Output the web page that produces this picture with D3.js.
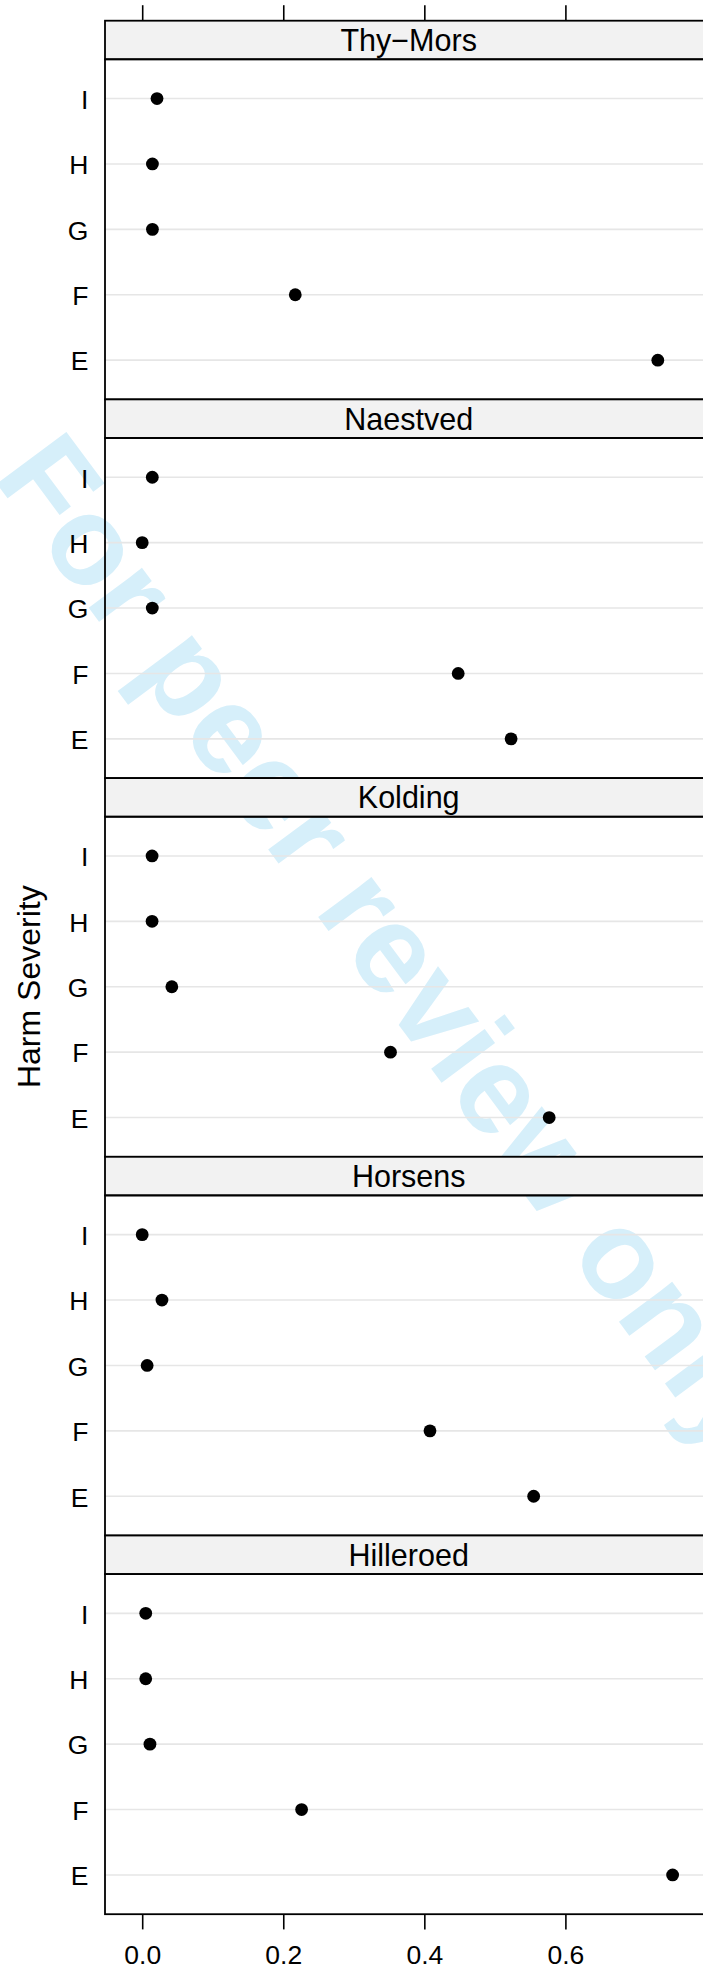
<!DOCTYPE html>
<meta charset="utf-8">
<title>Harm severity by site</title>
<style>
  body { margin: 0; background: #fff; }
  text { font-family: "Liberation Sans", Arial, Helvetica, sans-serif; }
</style>
<div id="viz"></div>
<script src="https://cdnjs.cloudflare.com/ajax/libs/d3/7.8.5/d3.min.js"></script>
<script>

// data (proportions per severity level)
var sites = ["Thy\u2212Mors", "Naestved", "Kolding", "Horsens", "Hilleroed"];
var levels = ["I", "H", "G", "F", "E"];           // top to bottom
var thyMors   = { E: 0.731, F: 0.217, G: 0.0145, H: 0.0145, I: 0.021 };
var naestved  = { E: 0.523, F: 0.448, G: 0.0143, H: 0.0,    I: 0.0143 };
var kolding   = { E: 0.577, F: 0.352, G: 0.042,  H: 0.014,  I: 0.014 };
var horsens   = { E: 0.555, F: 0.408, G: 0.007,  H: 0.028,  I: 0.0 };
var hilleroed = { E: 0.752, F: 0.226, G: 0.011,  H: 0.005,  I: 0.005 };
var xTicks = [0, 0.2, 0.4, 0.6];
var yTitle = "Harm Severity";
var watermark = "For peer review only";

var siteValues = [thyMors, naestved, kolding, horsens, hilleroed];

var width = 703;
var height = 1970;

var left = 105, right = 712.4;
var top0 = 20.7;        // top of first strip
var period = 378.7;     // strip + panel
var stripH = 38.6;

var x = d3.scaleLinear().domain([0, 0.6]).range([142.2, 565.4]);

var svg = d3.select("#viz")
  .append("svg")
  .attr("width", width)
  .attr("height", height);

svg.append("rect")
  .attr("width", width)
  .attr("height", height)
  .attr("fill", "#fff");

// watermark underneath everything
svg.append("text")
  .attr("transform", "translate(357,969) rotate(53.4)")
  .attr("text-anchor", "middle")
  .attr("font-size", 126)
  .attr("font-weight", "bold")
  .attr("fill", "#d6effa")
  .text(watermark);

sites.forEach(function(site, i) {
  var sTop = top0 + i * period;
  var pTop = sTop + stripH;
  var pBot = sTop + period;

  var y = d3.scalePoint().domain(levels).range([pTop, pBot]).padding(0.6);

  var g = svg.append("g");

  // reference lines
  g.selectAll("line.grid")
    .data(levels)
    .enter().append("line")
    .attr("class", "grid")
    .attr("x1", left)
    .attr("x2", right)
    .attr("y1", function(d) { return y(d); })
    .attr("y2", function(d) { return y(d); })
    .attr("stroke", "#e6e6e6")
    .attr("stroke-width", 1.6);

  // strip
  g.append("rect")
    .attr("x", left)
    .attr("y", sTop)
    .attr("width", right - left)
    .attr("height", stripH)
    .attr("fill", "#f2f2f2")
    .attr("stroke", "#000")
    .attr("stroke-width", 1.8);

  g.append("text")
    .attr("x", (left + right) / 2)
    .attr("y", sTop + stripH / 2)
    .attr("dy", "0.36em")
    .attr("text-anchor", "middle")
    .attr("font-size", 30.5)
    .text(site);

  // panel border
  g.append("rect")
    .attr("x", left)
    .attr("y", pTop)
    .attr("width", right - left)
    .attr("height", pBot - pTop)
    .attr("fill", "none")
    .attr("stroke", "#000")
    .attr("stroke-width", 1.8);

  // y labels
  var ya = g.append("g")
    .attr("transform", "translate(" + left + ",0)")
    .call(d3.axisLeft(y).tickSize(0).tickPadding(16.7));
  ya.select(".domain").remove();
  ya.selectAll("text")
    .attr("font-size", 26.5)
    .attr("font-family", null)
    .attr("fill", "#000")
    .attr("dy", "0.37em");

  // dots
  g.selectAll("circle")
    .data(levels)
    .enter().append("circle")
    .attr("cx", function(d) { return x(siteValues[i][d]); })
    .attr("cy", function(d) { return y(d); })
    .attr("r", 6.4)
    .attr("fill", "#000");
});

// top axis: ticks only
var topAxis = svg.append("g")
  .attr("transform", "translate(0," + top0 + ")")
  .call(d3.axisTop(x).tickValues(xTicks).tickSize(15.5).tickFormat(""));
topAxis.select(".domain").remove();
topAxis.selectAll("line").attr("stroke", "#000").attr("stroke-width", 1.6);

// bottom axis
var bottomY = top0 + sites.length * period;
var bottomAxis = svg.append("g")
  .attr("transform", "translate(0," + bottomY + ")")
  .call(d3.axisBottom(x).tickValues(xTicks).tickSize(15.2).tickPadding(15.7)
    .tickFormat(d3.format(".1f")));
bottomAxis.select(".domain").remove();
bottomAxis.selectAll("line").attr("stroke", "#000").attr("stroke-width", 1.6);
bottomAxis.selectAll("text")
  .attr("font-size", 26.5)
  .attr("font-family", null)
  .attr("fill", "#000");

// y title
svg.append("text")
  .attr("transform", "translate(40.4,986.7) rotate(-90)")
  .attr("text-anchor", "middle")
  .attr("font-size", 32)
  .text(yTitle);

</script>
